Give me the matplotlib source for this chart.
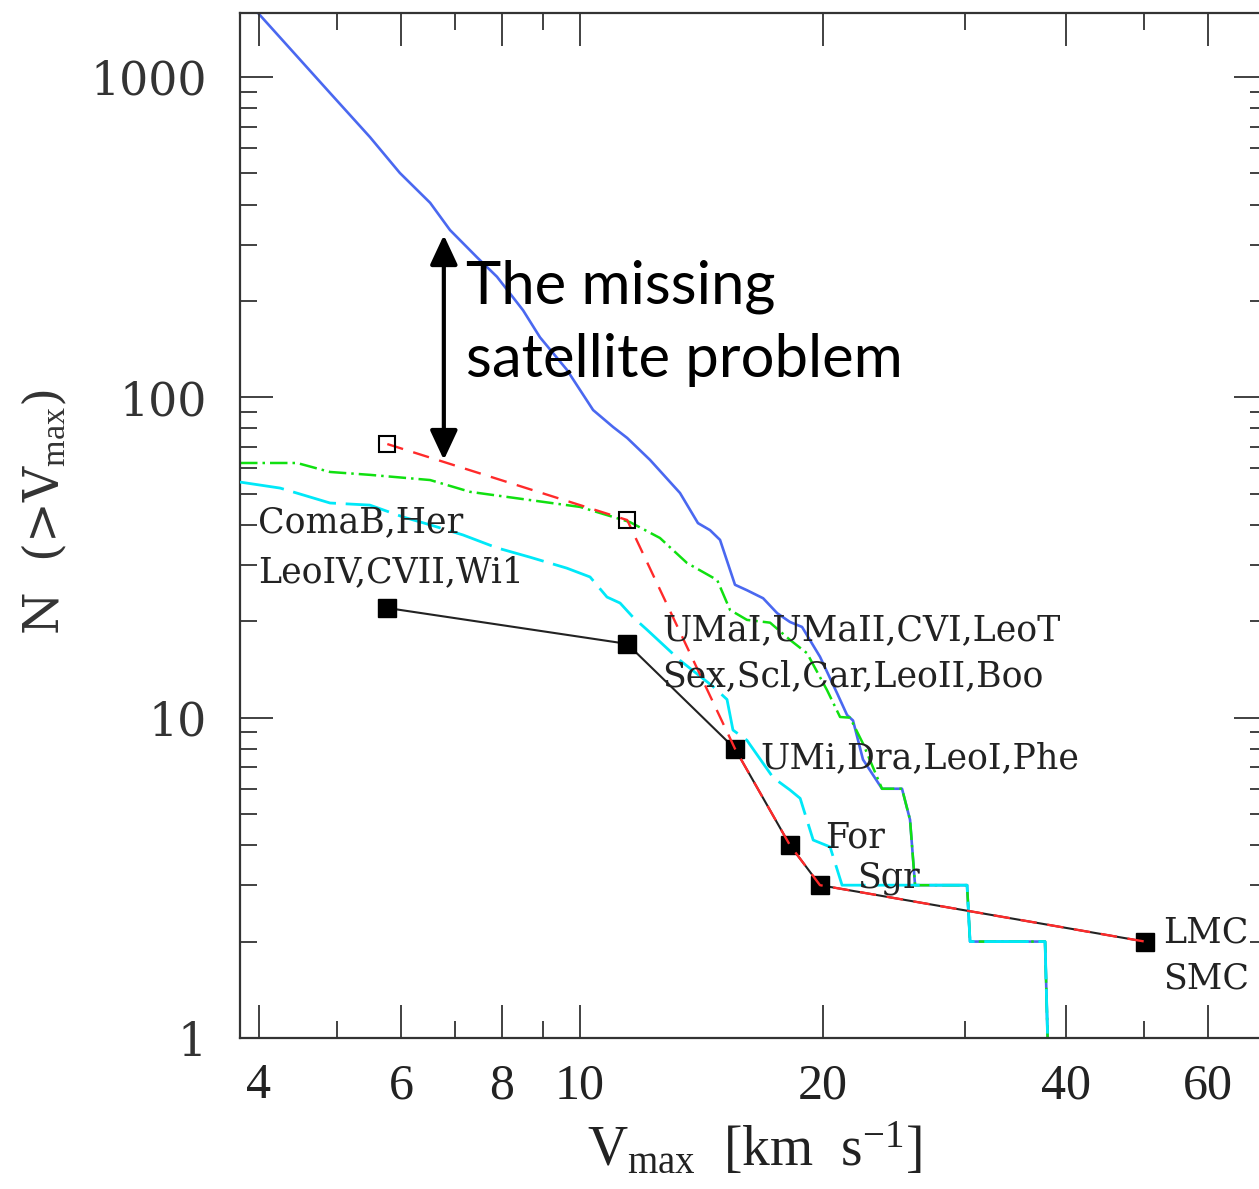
import matplotlib
matplotlib.use('Agg')
import matplotlib.pyplot as plt
from matplotlib.ticker import FixedLocator, NullFormatter, LogLocator

plt.rcParams['mathtext.fontset'] = 'custom'
plt.rcParams['mathtext.rm'] = 'Liberation Serif'
plt.rcParams['mathtext.it'] = 'Liberation Serif:italic'

# Кривые из симуляций (N(>Vmax))
blue_v = [3.99, 4.90, 5.49, 5.98, 6.52, 6.90, 7.45, 7.89, 8.50, 8.92, 9.63, 10.38, 10.99,
          11.44, 12.21, 13.30, 14.00, 14.49, 14.91, 15.56, 16.10, 16.86, 17.55, 18.20,
          18.84, 19.83, 20.83, 21.42, 21.79, 22.42, 23.67, 25.06, 25.64, 26.01, 30.17,
          30.43, 37.69, 38.01]
blue_n = [1585, 892, 650, 502, 405, 333, 274, 238, 187, 154, 122, 91.3, 80.8, 74.7, 63.8,
          50.3, 40.5, 38.5, 35.9, 26.0, 25.0, 23.6, 21.2, 19.9, 19.2, 15.5, 11.9, 10.2,
          9.8, 7.4, 6.0, 6.0, 4.8, 3.0, 3.0, 2.0, 2.0, 0.9]

green_v = [3.79, 4.46, 4.90, 5.49, 6.52, 7.31, 8.67, 10.0, 11.53, 12.56, 13.57, 14.79,
           15.34, 16.10, 17.20, 18.20, 19.11, 20.23, 21.00, 21.61, 22.42, 23.67, 25.06,
           25.64, 26.01, 30.17, 30.43, 37.69, 38.01]
green_n = [62.4, 62.4, 58.5, 57.3, 55.2, 50.7, 47.8, 45.5, 40.8, 36.4, 30.4, 26.9, 21.7,
           20.2, 19.8, 17.5, 15.9, 12.2, 10.05, 10.0, 8.3, 6.0, 6.0, 4.8, 3.0, 3.0, 2.0,
           2.0, 0.9]

cyan_v = [3.79, 4.25, 4.90, 5.49, 6.04, 6.52, 7.16, 7.89, 8.67, 9.63, 10.29, 10.80, 11.21,
          11.63, 12.11, 13.30, 14.62, 15.21, 15.47, 16.10, 17.35, 18.20, 18.74, 19.45,
          20.41, 21.12, 30.17, 30.43, 37.69, 38.01]
cyan_n = [54.4, 52.1, 46.8, 46.1, 42.3, 40.0, 37.2, 33.9, 31.7, 29.3, 27.5, 23.8, 22.8,
          20.6, 18.8, 15.1, 12.5, 11.4, 9.15, 8.5, 6.5, 5.95, 5.6, 4.15, 3.95, 3.0, 3.0,
          2.0, 2.0, 0.9]

# Наблюдаемые спутники
obs_v = [5.77, 11.44, 15.56, 18.20, 19.83, 50.1]
obs_n = [22, 17, 8, 4, 3, 2]
red_v = [5.77, 11.44, 15.56, 18.20, 19.83, 50.1]
red_n = [71.5, 41.4, 8, 4, 3, 2]
open_v = [5.77, 11.44]
open_n = [71.5, 41.4]

labels = [
    ('ComaB,Her', 3.99, 38.0),
    ('LeoIV,CVII,Wi1', 3.99, 26.5),
    ('UMaI,UMaII,CVI,LeoT', 12.64, 17.5),
    ('Sex,Scl,Car,LeoII,Boo', 12.64, 12.5),
    ('UMi,Dra,LeoI,Phe', 16.71, 6.97),
    ('For', 20.12, 3.92),
    ('Sgr', 22.04, 2.94),
    ('LMC', 52.8, 1.98),
    ('SMC', 52.8, 1.43),
]

x_major = [4, 6, 8, 10, 20, 40, 60]
x_minor = [5, 7, 9, 30, 50]

W, H = 1259, 1189
fig = plt.figure(figsize=(W / 100, H / 100), dpi=100)
ax = fig.add_axes([240 / W, 1 - 1038 / H, (1267 - 240) / W, (1038 - 13) / H])
ax.set_xscale('log')
ax.set_yscale('log')

ax.plot(blue_v, blue_n, color='#4a68f0', lw=1.9, zorder=1)
ax.plot(green_v, green_n, color='#10e010', lw=1.8, dashes=(7, 2, 1, 2), zorder=2)
ax.plot(cyan_v, cyan_n, color='#00e8f8', lw=2.0, dashes=(16, 3.5), zorder=3)
ax.plot(obs_v, obs_n, color='#222222', lw=1.5, marker='s', ms=13, mfc='black',
        mec='black', zorder=4)
ax.plot(red_v, red_n, color='#ff2a2a', lw=1.7, dashes=(7, 4.5), zorder=5)
ax.plot(open_v, open_n, ls='none', marker='s', ms=11, mfc='none', mec='black',
        mew=1.5, zorder=6)

for txt, x, y in labels:
    ax.text(x, y, txt, fontsize=25, family='DejaVu Serif', color='#222222',
            va='baseline', ha='left', zorder=7)

# стрелка и подпись
ax.annotate('', xy=(6.78, 63.8), xytext=(6.78, 321),
            arrowprops=dict(arrowstyle='<|-|>,head_length=0.9,head_width=0.42',
                            mutation_scale=20, lw=3, color='black',
                            shrinkA=0, shrinkB=0), zorder=8)
ax.text(7.22, 197, 'The missing', fontsize=43, family='Lato', va='baseline',
        ha='left', zorder=8)
ax.text(7.22, 115.8, 'satellite problem', fontsize=43, family='Lato',
        va='baseline', ha='left', zorder=8)

ax.set_xlim(3.79, 71.0)
ax.set_ylim(1, 1585)

ax.xaxis.set_major_locator(FixedLocator(x_major))
ax.xaxis.set_minor_locator(FixedLocator(x_minor))
ax.set_xticklabels([str(v) for v in x_major])
ax.xaxis.set_minor_formatter(NullFormatter())
ax.yaxis.set_major_locator(FixedLocator([1, 10, 100, 1000]))
ax.yaxis.set_minor_locator(LogLocator(base=10, subs=range(2, 10)))
ax.yaxis.set_minor_formatter(NullFormatter())
ax.set_yticklabels(['1', '10', '100', '1000'])

ax.tick_params(which='both', direction='in', top=True, right=True, color='#333333',
               width=1.3)
ax.tick_params(which='major', length=24)
ax.tick_params(which='minor', length=12)
ax.tick_params(axis='y', which='major', pad=24, labelsize=33)
ax.tick_params(axis='x', which='major', pad=18, labelsize=36)
for lab in ax.get_yticklabels():
    lab.set_family('DejaVu Serif')
    lab.set_color('#333333')
for lab in ax.get_xticklabels():
    lab.set_family('Liberation Serif')
    lab.set_color('#222222')
for sp in ax.spines.values():
    sp.set_linewidth(1.6)
    sp.set_color('#333333')

fig.text(45 / W, 1 - 512 / H, r'N  (>V$_{\rm max}$)', rotation=90, fontsize=35,
         family='DejaVu Serif', color='#333333', ha='center', va='center')
fig.text(754 / W, 1 - 1150 / H, r'V$_{\rm max}$  [km  s$^{-1}$]', fontsize=40,
         family='Liberation Serif', color='#222222', ha='center', va='center')

fig.savefig('out.png', dpi=100)
